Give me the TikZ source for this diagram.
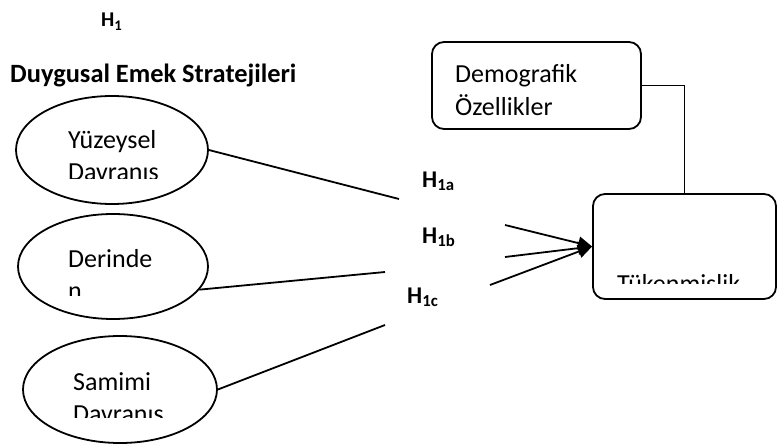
\documentclass[tikz,border=0pt]{standalone}
\usepackage{fontspec}
\setmainfont{Carlito}
\usetikzlibrary{arrows.meta,shapes.geometric}
\tikzset{
  oval/.style={draw,ellipse,line width=1.8pt,inner sep=0pt},
  block/.style={draw,rectangle,rounded corners=12pt,line width=1.8pt,inner sep=0pt},
  txt/.style={anchor=base west,inner sep=0pt,align=left,font=\fontsize{26}{32}\selectfont},
  hyp/.style={anchor=base west,inner sep=0pt,font=\fontsize{24}{28}\selectfont\bfseries},
  link/.style={line width=1.8pt},
  effect/.style={line width=1.8pt,-{Triangle[length=14pt,width=13pt]}}
}

\begin{document}
\begin{tikzpicture}[x=1pt,y=-1pt]
\useasboundingbox (0,0) rectangle (777,444);

% titles
\node[hyp,font=\fontsize{21}{26}\selectfont\bfseries] (h1) at (101,27) {H\textsubscript{1}};
\node[anchor=base west,inner sep=0pt,font=\fontsize{26.4}{30}\selectfont\bfseries] (title) at (10,82) {Duygusal Emek Stratejileri};

% strategies
\node[oval,minimum width=192pt,minimum height=108pt] (yuz) at (112,150) {};
\node[oval,minimum width=190pt,minimum height=105pt] (derin) at (113,266.5) {};
\node[oval,minimum width=194pt,minimum height=107pt] (sam) at (120,389.5) {};

% text boxes cut at the bottom
\begin{scope}
  \clip (0,90) rectangle (300,178);
  \node[txt] (yuzt) at (68,180) {Yüzeysel\\Davranış};
\end{scope}
\begin{scope}
  \clip (0,210) rectangle (300,295);
  \node[txt] (derint) at (68,299) {Derinde\\n};
\end{scope}
\begin{scope}
  \clip (0,330) rectangle (300,417);
  \node[txt] (samt) at (73,422) {Samimi\\Davranış};
\end{scope}

% outcome and control
\node[block,minimum width=209pt,minimum height=87pt] (dem) at (536.5,85.5) {};
\node[txt,font=\fontsize{26}{33}\selectfont] (demt) at (455,115) {Demografik\\Özellikler};
\node[block,minimum width=183pt,minimum height=105pt] (tuk) at (684.5,246.5) {};
\begin{scope}
  \clip (590,190) rectangle (777,283);
  \node[txt] (tukt) at (617,292) {Tükenmişlik};
\end{scope}

% hypotheses
\node[hyp] (h1a) at (422,187) {H\textsubscript{1a}};
\node[hyp] (h1b) at (422,243) {H\textsubscript{1b}};
\node[hyp] (h1c) at (407,303) {H\textsubscript{1c}};

\coordinate (a1) at (399,199);
\coordinate (a2) at (385,272);
\coordinate (a3) at (385,325);
\coordinate (b1) at (505,225);
\coordinate (b2) at (505,257);
\coordinate (b3) at (490,285);

\draw[link] (yuz.east) -- (a1);
\draw[link] (derin.-15) -- (a2);
\draw[link] (sam.east) -- (a3);

\draw[effect] (b1) -- (tuk.west);
\draw[effect] (b2) -- (tuk.west);
\draw[effect] (b3) -- (tuk.west);

\draw[link] (dem.east) -| (tuk.north);

\end{tikzpicture}
\end{document}
